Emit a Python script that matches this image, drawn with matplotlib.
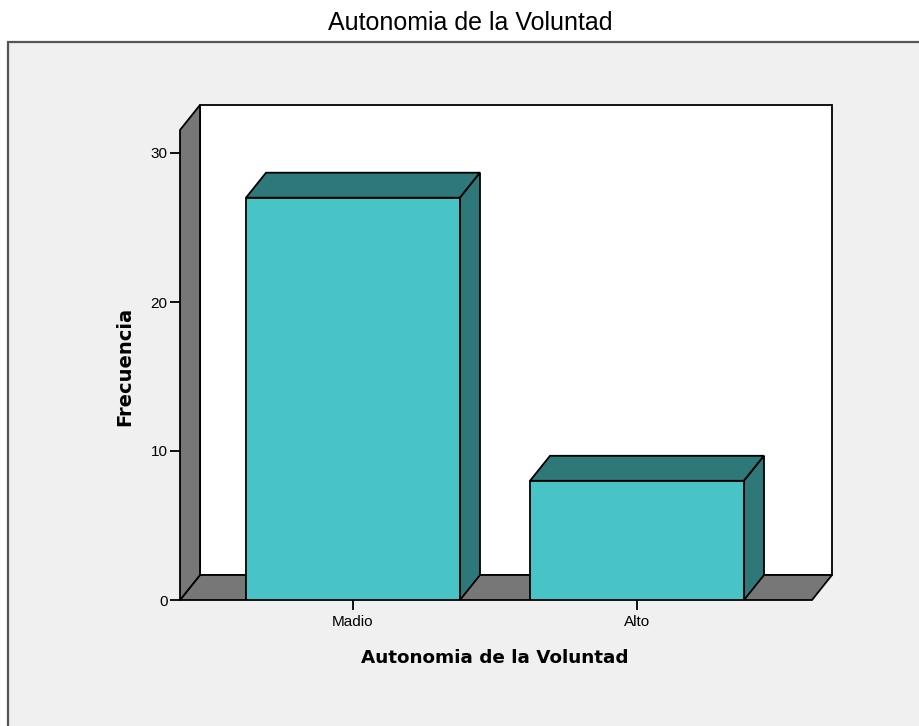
import matplotlib
matplotlib.use("Agg")
import matplotlib.pyplot as plt
from matplotlib.patches import Polygon, Rectangle

# ---- data ----
categories = ["Madio", "Alto"]
values = [27, 8]
yticks = [0, 10, 20, 30]
title = "Autonomia de la Voluntad"
xlabel = "Autonomia de la Voluntad"
ylabel = "Frecuencia"

# ---- style ----
W, H = 920, 726
front_col = "#48C3C6"
dark_col = "#2E7879"
wall_col = "#777777"
panel_col = "#F0F0F0"

fig = plt.figure(figsize=(W / 100, H / 100), dpi=100)
fig.patch.set_facecolor("white")

# outer panel
panel = Rectangle((8 / W, -0.05), 1.1, 1 - 42 / H + 0.05, transform=fig.transFigure,
                  facecolor=panel_col, edgecolor="#555555", linewidth=1.6, zorder=-10)
fig.patches.append(panel)

# axes geometry (pixels)
ax_l, ax_r, ax_b, ax_t = 180, 832, 600, 105
ax = fig.add_axes([ax_l / W, 1 - ax_b / H, (ax_r - ax_l) / W, (ax_b - ax_t) / H])
ax.set_zorder(1)
ax.set_facecolor("none")
for s in ax.spines.values():
    s.set_visible(False)

px_per_x = 284.0
px_per_y = 14.9
center0 = 353
xl = (ax_l - center0) / px_per_x
xr = (ax_r - center0) / px_per_x
ytop = (ax_b - ax_t) / px_per_y
ax.set_xlim(xl, xr)
ax.set_ylim(0, ytop)

dx = 20 / px_per_x
dy = 25 / px_per_y
bw = 214 / px_per_x
xr_front = xr - dx
lw = 1.3

# back wall
ax.add_patch(Polygon([(xl + dx, dy), (xr, dy), (xr, ytop), (xl + dx, ytop)],
                     closed=True, facecolor="white", edgecolor="black", lw=lw, zorder=1,
                     clip_on=False))
# floor
ax.add_patch(Polygon([(xl, 0), (xr_front, 0), (xr, dy), (xl + dx, dy)],
                     closed=True, facecolor=wall_col, edgecolor="black", lw=lw, zorder=2,
                     clip_on=False))
# left wall
ax.add_patch(Polygon([(xl, 0), (xl, ytop - dy), (xl + dx, ytop), (xl + dx, dy)],
                     closed=True, facecolor=wall_col, edgecolor="black", lw=lw, zorder=2,
                     clip_on=False))

# bars
for i, v in enumerate(values):
    x0 = i - bw / 2
    x1 = i + bw / 2
    ax.add_patch(Polygon([(x0, v), (x1, v), (x1 + dx, v + dy), (x0 + dx, v + dy)],
                         closed=True, facecolor=dark_col, edgecolor="black", lw=lw, zorder=3))
    ax.add_patch(Polygon([(x1, 0), (x1 + dx, dy), (x1 + dx, v + dy), (x1, v)],
                         closed=True, facecolor=dark_col, edgecolor="black", lw=lw, zorder=3))
    ax.add_patch(Rectangle((x0, 0), bw, v, facecolor=front_col, edgecolor="black",
                           lw=lw, zorder=4))

ax.set_yticks(yticks)
ax.set_yticklabels([str(t) for t in yticks], fontsize=11, family="Liberation Sans")
ax.set_xticks(range(len(categories)))
ax.set_xticklabels(categories, fontsize=11, family="Liberation Sans")
ax.tick_params(axis="both", direction="out", length=7, width=1.3, color="black", pad=2)
ax.tick_params(axis="x", pad=4)

fig.text(470 / W, 1 - 23 / H, title, ha="center", va="center", fontsize=18,
         family="Liberation Sans")
fig.text(495 / W, 1 - 658 / H, xlabel, ha="center", va="center", fontsize=13.2,
         fontweight="bold", family="DejaVu Sans")
fig.text(125 / W, 1 - 366 / H, ylabel, ha="center", va="center", fontsize=14,
         fontweight="bold", family="DejaVu Sans", rotation=90)

fig.savefig("out.png", dpi=100)
